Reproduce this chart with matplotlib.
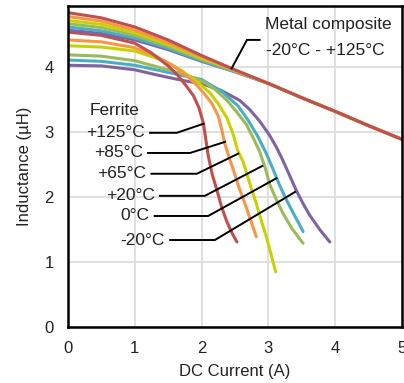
import matplotlib
matplotlib.use("Agg")
import matplotlib.pyplot as plt

plt.rcParams['font.family'] = ['Liberation Sans', 'DejaVu Sans']

# metal composite, -20..+125 C (all nearly identical)
metal_x = [0, 0.5, 1.0, 1.5, 2.0, 2.5, 3.0, 3.5, 4.0, 4.5, 5.0]
metal_red = [4.84, 4.76, 4.62, 4.42, 4.18, 3.96, 3.75, 3.53, 3.32, 3.10, 2.89]
metal_orange = [4.78, 4.71, 4.57, 4.38, 4.16, 3.95, 3.75, 3.53, 3.32, 3.10, 2.89]
metal_yellow = [4.72, 4.66, 4.53, 4.35, 4.14, 3.95, 3.75, 3.53, 3.32, 3.10, 2.89]
metal_green = [4.67, 4.61, 4.49, 4.32, 4.12, 3.94, 3.75, 3.53, 3.32, 3.10, 2.89]
metal_blue = [4.62, 4.56, 4.45, 4.29, 4.10, 3.93, 3.75, 3.53, 3.32, 3.10, 2.89]
metal_purple = [4.57, 4.52, 4.42, 4.27, 4.09, 3.93, 3.75, 3.53, 3.32, 3.10, 2.89]

# ferrite curves
fer_125_x = [0, 0.5, 1.0, 1.25, 1.5, 1.65, 1.78, 1.88, 1.96, 2.03, 2.10, 2.16, 2.23, 2.30, 2.38, 2.46, 2.53]
fer_125_y = [4.54, 4.49, 4.37, 4.22, 4.02, 3.87, 3.70, 3.56, 3.38, 3.13, 2.64, 2.35, 2.11, 1.85, 1.62, 1.44, 1.31]
fer_85_x = [0, 0.5, 1.0, 1.3, 1.57, 1.8, 1.93, 2.05, 2.15, 2.25, 2.30, 2.35, 2.41, 2.47, 2.56, 2.65, 2.74, 2.82]
fer_85_y = [4.42, 4.39, 4.30, 4.18, 4.03, 3.85, 3.72, 3.58, 3.45, 3.25, 3.05, 2.82, 2.62, 2.44, 2.15, 1.90, 1.63, 1.39]
fer_65_x = [0, 0.5, 1.0, 1.38, 1.7, 1.87, 2.0, 2.13, 2.25, 2.38, 2.48, 2.54, 2.62, 2.72, 2.82, 2.90, 2.97, 3.04, 3.11]
fer_65_y = [4.33, 4.31, 4.25, 4.12, 3.95, 3.82, 3.72, 3.60, 3.44, 3.22, 2.95, 2.72, 2.55, 2.22, 1.90, 1.62, 1.39, 1.12, 0.85]
fer_20_x = [0, 0.5, 1.0, 1.5, 1.8, 2.02, 2.2, 2.38, 2.52, 2.67, 2.77, 2.87, 2.95, 3.02, 3.12, 3.22, 3.35, 3.52]
fer_20_y = [4.19, 4.17, 4.10, 3.96, 3.87, 3.78, 3.66, 3.49, 3.32, 3.12, 2.92, 2.70, 2.46, 2.20, 1.96, 1.75, 1.52, 1.29]
fer_0_x = [0, 0.5, 1.0, 1.5, 2.0, 2.3, 2.55, 2.70, 2.85, 2.97, 3.07, 3.17, 3.27, 3.37, 3.45, 3.52]
fer_0_y = [4.11, 4.09, 4.03, 3.92, 3.81, 3.63, 3.40, 3.18, 2.92, 2.67, 2.43, 2.18, 1.96, 1.76, 1.61, 1.47]
fer_m20_x = [0, 0.5, 1.0, 1.38, 1.7, 2.02, 2.3, 2.57, 2.72, 2.87, 3.02, 3.12, 3.22, 3.32, 3.42, 3.52, 3.62, 3.77, 3.92]
fer_m20_y = [4.03, 4.02, 3.96, 3.87, 3.80, 3.74, 3.64, 3.49, 3.35, 3.17, 2.95, 2.77, 2.56, 2.33, 2.10, 1.90, 1.72, 1.50, 1.31]

ferrite_labels = ['+125°C', '+85°C', '+65°C', '+20°C', '0°C', '-20°C']

RED = '#c0504d'
ORANGE = '#f79646'
YELLOW = '#c9d200'
GREEN = '#9bbb59'
BLUE = '#4bacc6'
PURPLE = '#8064a2'

fig = plt.figure(figsize=(4.04, 3.83), dpi=100)
ax = fig.add_axes([0.168, 0.146, 0.827, 0.838])

lw = 2.2
kw = dict(lw=lw, solid_joinstyle='round', solid_capstyle='round')
# ferrite
ax.plot(fer_m20_x, fer_m20_y, color=PURPLE, **kw)
ax.plot(fer_0_x, fer_0_y, color=BLUE, **kw)
ax.plot(fer_20_x, fer_20_y, color=GREEN, **kw)
ax.plot(fer_65_x, fer_65_y, color=YELLOW, **kw)
ax.plot(fer_85_x, fer_85_y, color=ORANGE, **kw)
ax.plot(fer_125_x, fer_125_y, color=RED, **kw)
# metal composite
ax.plot(metal_x, metal_purple, color=PURPLE, **kw)
ax.plot(metal_x, metal_blue, color=BLUE, **kw)
ax.plot(metal_x, metal_green, color=GREEN, **kw)
ax.plot(metal_x, metal_yellow, color=YELLOW, **kw)
ax.plot(metal_x, metal_orange, color=ORANGE, **kw)
ax.plot(metal_x, metal_red, color=RED, **kw)

# leader lines for ferrite labels
leaders = [
    [(1.23, 2.99), (1.63, 2.99), (2.03, 3.13)],
    [(1.20, 2.68), (1.83, 2.68), (2.35, 2.85)],
    [(1.25, 2.36), (1.93, 2.36), (2.55, 2.67)],
    [(1.38, 2.02), (2.05, 2.02), (2.91, 2.48)],
    [(1.30, 1.71), (2.10, 1.71), (3.12, 2.29)],
    [(1.53, 1.34), (2.20, 1.34), (3.40, 2.08)],
]
for lab, pts in zip(ferrite_labels, leaders):
    xs = [p[0] for p in pts]
    ys = [p[1] for p in pts]
    ax.plot(xs, ys, color='black', lw=1.4)
    ax.text(xs[0] - 0.08, ys[0], lab, ha='right', va='center', fontsize=12.5, color='#222222')

ax.text(0.33, 3.34, 'Ferrite', ha='left', va='center', fontsize=12.5, color='#222222')

ax.plot([2.45, 2.68, 2.87], [3.98, 4.42, 4.42], color='black', lw=1.4)
ax.text(2.95, 4.65, 'Metal composite', ha='left', va='center', fontsize=12.5, color='#222222')
ax.text(2.96, 4.26, '-20°C - +125°C', ha='left', va='center', fontsize=12.5, color='#222222')

ax.set_xlim(0, 5)
ax.set_ylim(0, 4.94)
ax.set_xticks([0, 1, 2, 3, 4, 5])
ax.set_yticks([0, 1, 2, 3, 4])
ax.grid(True, color='#dddddd', lw=1.3)
ax.set_axisbelow(True)
ax.tick_params(length=0, labelsize=12, colors='#222222', pad=10)
for s in ax.spines.values():
    s.set_color('black')
    s.set_linewidth(1.8)

ax.set_xlabel('DC Current (A)', fontsize=12, color='#222222', labelpad=6)
ax.set_ylabel('Inductance (µH)', fontsize=12, color='#222222', labelpad=9)

fig.savefig('out.png', dpi=100)
